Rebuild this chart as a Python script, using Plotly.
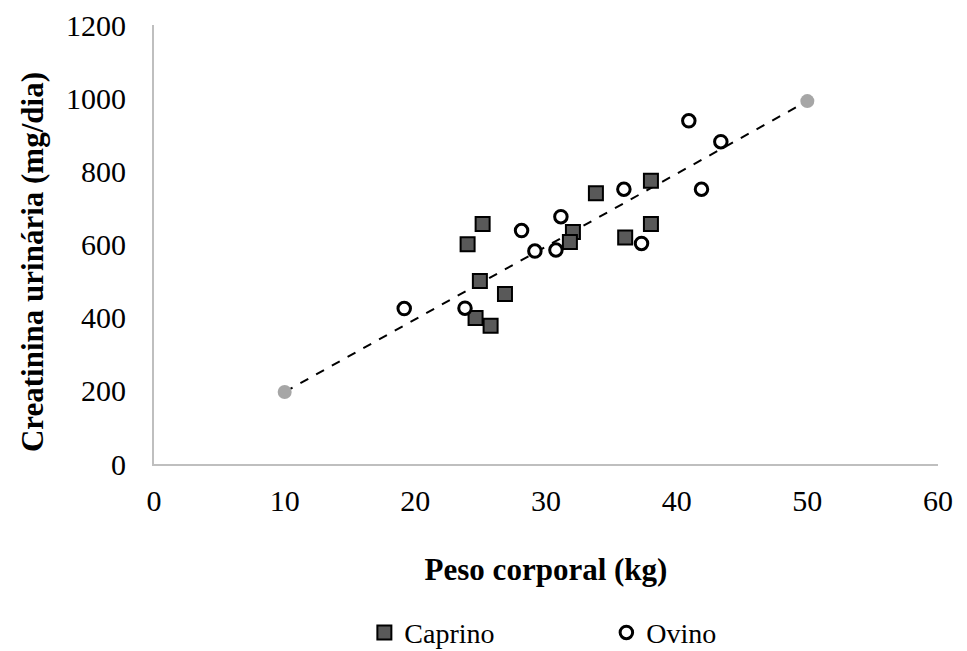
import plotly.graph_objects as go

# Data
caprino_x = [25.15, 24.0, 24.94, 26.86, 24.61, 25.76, 33.82, 38.03, 32.06, 31.83, 36.06, 38.03]
caprino_y = [656, 601, 500, 465, 399, 378, 740, 774, 634, 607, 619, 656]

ovino_x = [19.15, 23.8, 28.13, 31.14, 29.15, 30.76, 37.31, 35.96, 41.9, 40.93, 43.38]
ovino_y = [425, 426, 638, 676, 582, 585, 603, 751, 751, 938, 881]

trend_x = [10, 50]
trend_y = [197, 992]

x_ticks = [0, 10, 20, 30, 40, 50, 60]
y_ticks = [0, 200, 400, 600, 800, 1000, 1200]

FONT = "Liberation Serif, Times New Roman, serif"

fig = go.Figure()

fig.add_trace(go.Scatter(
    x=trend_x, y=trend_y, mode="lines+markers",
    line=dict(color="black", width=2, dash="dash"),
    marker=dict(color="#a6a6a6", size=14, symbol="circle"),
    showlegend=False, hoverinfo="skip",
))

fig.add_trace(go.Scatter(
    x=caprino_x, y=caprino_y, mode="markers", name="Caprino",
    marker=dict(symbol="square", size=14, color="#595959",
                line=dict(color="black", width=2)),
))

fig.add_trace(go.Scatter(
    x=ovino_x, y=ovino_y, mode="markers", name="Ovino",
    marker=dict(symbol="circle", size=12.5, color="white",
                line=dict(color="black", width=3)),
))

fig.update_layout(
    width=967, height=651,
    margin=dict(l=154, r=29, t=25, b=187, autoexpand=False),
    paper_bgcolor="white", plot_bgcolor="white",
    font=dict(family=FONT, size=28, color="black"),
    legend=dict(orientation="h", x=0.577, xanchor="center",
                yref="container", y=0.028, yanchor="middle",
                font=dict(family=FONT, size=28, color="black"),
                entrywidth=197, itemwidth=30),
    annotations=[dict(
        text="<b>Creatinina urinária (mg/dia)</b>", textangle=-90,
        xref="paper", yref="paper", x=-0.1556, y=0.46,
        xanchor="center", yanchor="middle", showarrow=False,
        font=dict(family=FONT, size=31, color="black"),
    )],
)

fig.update_xaxes(
    range=[0, 60], tickvals=x_ticks, ticktext=[str(v) for v in x_ticks],
    showline=True, linecolor="#bfbfbf", linewidth=2, showgrid=False, zeroline=False,
    automargin=False,
    ticks="", tickfont=dict(family=FONT, size=30), ticklabelstandoff=9,
    title=dict(text="<b>Peso corporal (kg)</b>", font=dict(family=FONT, size=31), standoff=42),
)
fig.update_yaxes(
    range=[0, 1200], tickvals=y_ticks, ticktext=[str(v) for v in y_ticks],
    showline=True, linecolor="#bfbfbf", linewidth=2, showgrid=False, zeroline=False,
    automargin=False,
    ticks="", tickfont=dict(family=FONT, size=30), ticklabelstandoff=20,
)

fig.write_html("out.html")
